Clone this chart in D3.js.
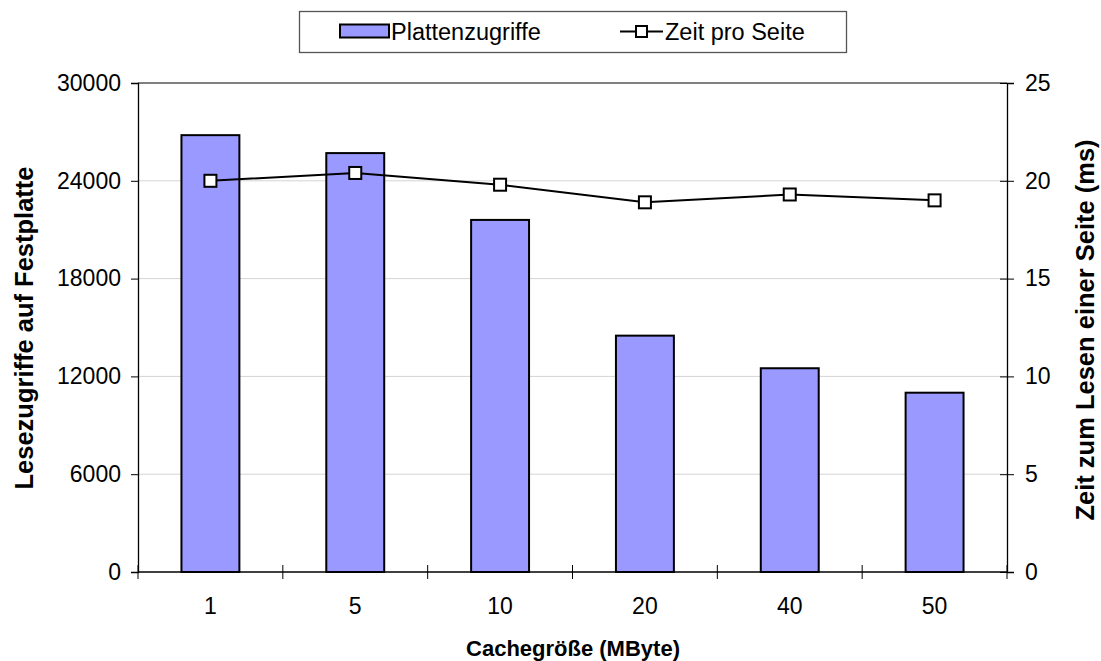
<!DOCTYPE html>
<html>
<head>
<meta charset="utf-8">
<script src="https://cdn.jsdelivr.net/npm/d3@7"></script>
<style>
  html, body { margin: 0; padding: 0; background: #fff; }
  svg { display: block; font-family: Arial, "Liberation Sans", sans-serif; }
</style>
</head>
<body>
<svg id="chart" width="1101" height="661"></svg>
<script>
// Cache size categories and measured values
const categories = ["1", "5", "10", "20", "40", "50"];
const diskReads = [26800, 25700, 21600, 14500, 12500, 11000];
const timePerPage = [20.0, 20.4, 19.8, 18.9, 19.3, 19.0];
const leftTicks = [0, 6000, 12000, 18000, 24000, 30000];
const rightTicks = [0, 5, 10, 15, 20, 25];

const labelSize = 23;
const legendSize = 23.5;
const sideTitleSize = 25.5;
const bottomTitleSize = 22;

const svg = d3.select("#chart");
const plot = { left: 138, right: 1007, top: 83, bottom: 572 };

const x = d3.scaleBand().domain(categories).range([plot.left, plot.right]);
const yL = d3.scaleLinear().domain([0, 30000]).range([plot.bottom, plot.top]);
const yR = d3.scaleLinear().domain([0, 25]).range([plot.bottom, plot.top]);

// Gridlines
svg.append("g").selectAll("line").data(leftTicks.slice(1, -1)).join("line")
  .attr("x1", plot.left).attr("x2", plot.right)
  .attr("y1", d => yL(d)).attr("y2", d => yL(d))
  .attr("stroke", "#d4d4d4").attr("stroke-width", 1);

// Top border of plot area
svg.append("line")
  .attr("x1", plot.left).attr("x2", plot.right)
  .attr("y1", plot.top).attr("y2", plot.top)
  .attr("stroke", "#000").attr("stroke-width", 1);

// Bars
const barW = x.bandwidth() * 0.4;
svg.append("g").selectAll("rect").data(diskReads).join("rect")
  .attr("x", (d, i) => x(categories[i]) + (x.bandwidth() - barW) / 2)
  .attr("y", d => yL(d))
  .attr("width", barW)
  .attr("height", d => yL(0) - yL(d))
  .attr("fill", "#9999ff")
  .attr("stroke", "#000").attr("stroke-width", 2);

// Axes
const axisStyle = g => {
  g.select(".domain").attr("stroke", "#000").attr("stroke-width", 1.3);
  g.selectAll(".tick line").attr("stroke", "#000").attr("stroke-width", 1);
  g.selectAll("text").attr("fill", "#000").attr("font-size", labelSize)
    .attr("font-family", "Arial, 'Liberation Sans', sans-serif");
};

svg.append("g").attr("transform", `translate(${plot.left},0)`)
  .call(d3.axisLeft(yL).tickValues(leftTicks).tickFormat(d3.format("d")).tickSizeOuter(0).tickSize(7).tickPadding(10))
  .call(axisStyle);

const rAxis = svg.append("g").attr("transform", `translate(${plot.right},0)`)
  .call(d3.axisRight(yR).tickValues(rightTicks).tickFormat(d3.format("d")).tickSizeOuter(0).tickSize(7).tickPadding(11))
  .call(axisStyle);
rAxis.selectAll(".tick line").attr("x1", -7);

// Category axis: labels centred in bands, tick marks on band boundaries
const xAxis = svg.append("g").attr("transform", `translate(0,${plot.bottom})`);
xAxis.append("line").attr("x1", plot.left).attr("x2", plot.right)
  .attr("y1", 0).attr("y2", 0).attr("stroke", "#000").attr("stroke-width", 1.3);
const boundaries = categories.map(c => x(c)).concat([plot.right]);
xAxis.selectAll("line.b").data(boundaries).join("line").attr("class", "b")
  .attr("x1", d => d).attr("x2", d => d).attr("y1", -7).attr("y2", 7)
  .attr("stroke", "#000").attr("stroke-width", 1);
xAxis.selectAll("text").data(categories).join("text")
  .attr("x", d => x(d) + x.bandwidth() / 2).attr("y", 42)
  .attr("text-anchor", "middle").attr("font-size", labelSize).text(d => d);

// Line series
const line = d3.line()
  .x((d, i) => x(categories[i]) + x.bandwidth() / 2)
  .y(d => yR(d));
svg.append("path").datum(timePerPage).attr("d", line)
  .attr("fill", "none").attr("stroke", "#000").attr("stroke-width", 2);
const ms = 12;
svg.append("g").selectAll("rect").data(timePerPage).join("rect")
  .attr("x", (d, i) => x(categories[i]) + x.bandwidth() / 2 - ms / 2)
  .attr("y", d => yR(d) - ms / 2)
  .attr("width", ms).attr("height", ms)
  .attr("fill", "#fff").attr("stroke", "#000").attr("stroke-width", 2);

// Axis titles
svg.append("text").attr("x", 573).attr("y", 656).attr("text-anchor", "middle")
  .attr("font-size", bottomTitleSize).attr("font-weight", "bold").text("Cachegröße (MByte)");
svg.append("text").attr("transform", "translate(33,328) rotate(-90)")
  .attr("text-anchor", "middle").attr("font-size", sideTitleSize).attr("font-weight", "bold")
  .text("Lesezugriffe auf Festplatte");
svg.append("text").attr("transform", "translate(1094,330) rotate(-90)")
  .attr("text-anchor", "middle").attr("font-size", sideTitleSize).attr("font-weight", "bold")
  .text("Zeit zum Lesen einer Seite (ms)");

// Legend
const lg = svg.append("g");
lg.append("rect").attr("x", 299.5).attr("y", 11.5).attr("width", 547).attr("height", 41)
  .attr("fill", "#fff").attr("stroke", "#555").attr("stroke-width", 1.3);
lg.append("rect").attr("x", 340).attr("y", 24.5).attr("width", 49).attr("height", 13)
  .attr("fill", "#9999ff").attr("stroke", "#000").attr("stroke-width", 2);
lg.append("text").attr("x", 391).attr("y", 40).attr("font-size", legendSize).text("Plattenzugriffe");
lg.append("line").attr("x1", 620).attr("x2", 663).attr("y1", 31.5).attr("y2", 31.5)
  .attr("stroke", "#000").attr("stroke-width", 2);
lg.append("rect").attr("x", 636).attr("y", 26).attr("width", 11).attr("height", 11)
  .attr("fill", "#fff").attr("stroke", "#000").attr("stroke-width", 2);
lg.append("text").attr("x", 665).attr("y", 40).attr("font-size", legendSize).text("Zeit pro Seite");
</script>
</body>
</html>
